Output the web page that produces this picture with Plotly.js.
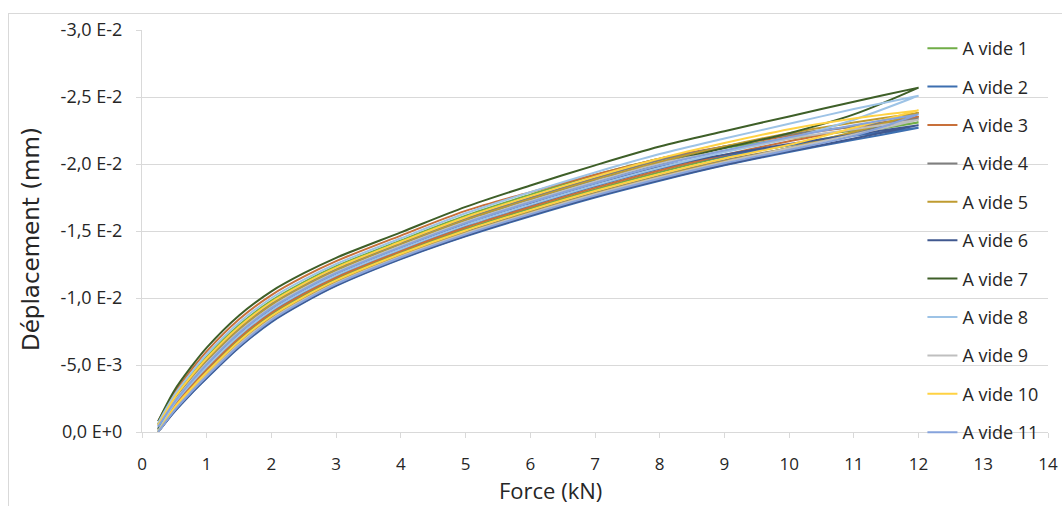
<!DOCTYPE html>
<html>
<head>
<meta charset="utf-8">
<script src="https://cdn.plot.ly/plotly-3.0.1.min.js"></script>
<style>
  html, body { margin: 0; padding: 0; background: #ffffff; }
  #frame { position: absolute; left: 8px; top: 13px; width: 1060px; height: 500px;
           border-top: 1px solid #d9d9d9; border-left: 1px solid #d9d9d9; }
  #chart { position: absolute; left: 0; top: 0; width: 1062px; height: 506px; }
</style>
</head>
<body>
<div id="frame"></div>
<div id="chart"></div>
<script>
// Force (kN) sample points, shared by the loading and unloading branches
const force = [0.25, 0.5, 0.75, 1, 1.5, 2, 2.5, 3, 4, 5, 6, 7, 8, 9, 10, 11, 12];

const seriesNames = ["A vide 1", "A vide 2", "A vide 3", "A vide 4", "A vide 5", "A vide 6",
                     "A vide 7", "A vide 8", "A vide 9", "A vide 10", "A vide 11"];
const seriesColors = ["#70ad47", "#3d6fb0", "#c8703a", "#7f7f7f", "#bf9b30", "#40588f",
                      "#3e5f28", "#9dc3e6", "#bfbfbf", "#ffd243", "#86a3dc"];

// Displacement (mm) on loading, in order of increasing force
const load1  = [-0.01e-2, -0.19e-2, -0.33e-2, -0.458e-2, -0.69e-2, -0.878e-2, -1.02e-2, -1.143e-2, -1.34e-2, -1.515e-2, -1.668e-2, -1.81e-2, -1.939e-2, -2.054e-2, -2.14e-2, -2.23e-2, -2.31e-2];
const load2  = [ 0.00e-2, -0.15e-2, -0.28e-2, -0.40e-2, -0.63e-2, -0.82e-2, -0.965e-2, -1.09e-2, -1.29e-2, -1.46e-2, -1.61e-2, -1.75e-2, -1.875e-2, -1.99e-2, -2.09e-2, -2.18e-2, -2.27e-2];
const load3  = [-0.02e-2, -0.198e-2, -0.34e-2, -0.469e-2, -0.702e-2, -0.889e-2, -1.031e-2, -1.153e-2, -1.35e-2, -1.526e-2, -1.679e-2, -1.822e-2, -1.952e-2, -2.067e-2, -2.17e-2, -2.26e-2, -2.35e-2];
const load4  = [ 0.00e-2, -0.174e-2, -0.31e-2, -0.435e-2, -0.666e-2, -0.855e-2, -0.998e-2, -1.122e-2, -1.32e-2, -1.493e-2, -1.645e-2, -1.786e-2, -1.913e-2, -2.028e-2, -2.12e-2, -2.23e-2, -2.34e-2];
const load5  = [-0.01e-2, -0.169e-2, -0.304e-2, -0.428e-2, -0.659e-2, -0.848e-2, -0.991e-2, -1.115e-2, -1.314e-2, -1.486e-2, -1.638e-2, -1.779e-2, -1.906e-2, -2.021e-2, -2.12e-2, -2.24e-2, -2.38e-2];
const load6  = [ 0.00e-2, -0.153e-2, -0.284e-2, -0.405e-2, -0.635e-2, -0.825e-2, -0.969e-2, -1.094e-2, -1.294e-2, -1.464e-2, -1.615e-2, -1.755e-2, -1.88e-2, -1.995e-2, -2.095e-2, -2.19e-2, -2.29e-2];
const load7  = [-0.02e-2, -0.23e-2, -0.38e-2, -0.515e-2, -0.75e-2, -0.935e-2, -1.075e-2, -1.195e-2, -1.39e-2, -1.57e-2, -1.725e-2, -1.87e-2, -2.00e-2, -2.12e-2, -2.23e-2, -2.37e-2, -2.57e-2];
const load8  = [-0.01e-2, -0.211e-2, -0.356e-2, -0.487e-2, -0.721e-2, -0.907e-2, -1.049e-2, -1.17e-2, -1.366e-2, -1.544e-2, -1.697e-2, -1.841e-2, -1.972e-2, -2.087e-2, -2.19e-2, -2.33e-2, -2.51e-2];
const load9  = [ 0.00e-2, -0.166e-2, -0.30e-2, -0.423e-2, -0.654e-2, -0.843e-2, -0.987e-2, -1.111e-2, -1.31e-2, -1.482e-2, -1.633e-2, -1.774e-2, -1.901e-2, -2.016e-2, -2.117e-2, -2.22e-2, -2.33e-2];
const load10 = [ 0.00e-2, -0.182e-2, -0.32e-2, -0.446e-2, -0.678e-2, -0.866e-2, -1.009e-2, -1.132e-2, -1.33e-2, -1.504e-2, -1.656e-2, -1.798e-2, -1.926e-2, -2.041e-2, -2.143e-2, -2.27e-2, -2.40e-2];
const load11 = [ 0.00e-2, -0.16e-2, -0.292e-2, -0.414e-2, -0.644e-2, -0.834e-2, -0.978e-2, -1.103e-2, -1.302e-2, -1.473e-2, -1.624e-2, -1.764e-2, -1.89e-2, -2.005e-2, -2.105e-2, -2.21e-2, -2.37e-2];

// Displacement (mm) on unloading, also listed in order of increasing force
const unload1  = [-0.06e-2, -0.262e-2, -0.42e-2, -0.561e-2, -0.798e-2, -0.981e-2, -1.119e-2, -1.237e-2, -1.43e-2, -1.614e-2, -1.771e-2, -1.918e-2, -2.04e-2, -2.12e-2, -2.19e-2, -2.25e-2, -2.31e-2];
const unload2  = [-0.03e-2, -0.206e-2, -0.35e-2, -0.48e-2, -0.714e-2, -0.90e-2, -1.042e-2, -1.164e-2, -1.36e-2, -1.537e-2, -1.69e-2, -1.834e-2, -1.964e-2, -2.06e-2, -2.14e-2, -2.21e-2, -2.27e-2];
const unload3  = [-0.08e-2, -0.29e-2, -0.456e-2, -0.602e-2, -0.841e-2, -1.022e-2, -1.159e-2, -1.275e-2, -1.466e-2, -1.65e-2, -1.79e-2, -1.92e-2, -2.04e-2, -2.13e-2, -2.21e-2, -2.28e-2, -2.35e-2];
const unload4  = [-0.06e-2, -0.246e-2, -0.40e-2, -0.538e-2, -0.774e-2, -0.958e-2, -1.097e-2, -1.216e-2, -1.41e-2, -1.592e-2, -1.748e-2, -1.894e-2, -2.028e-2, -2.13e-2, -2.22e-2, -2.28e-2, -2.34e-2];
const unload5  = [-0.05e-2, -0.238e-2, -0.39e-2, -0.527e-2, -0.762e-2, -0.947e-2, -1.086e-2, -1.206e-2, -1.40e-2, -1.581e-2, -1.737e-2, -1.882e-2, -2.015e-2, -2.13e-2, -2.23e-2, -2.31e-2, -2.38e-2];
const unload6  = [-0.04e-2, -0.214e-2, -0.36e-2, -0.492e-2, -0.726e-2, -0.912e-2, -1.053e-2, -1.174e-2, -1.37e-2, -1.548e-2, -1.702e-2, -1.846e-2, -1.977e-2, -2.07e-2, -2.15e-2, -2.22e-2, -2.29e-2];
const unload7  = [-0.08e-2, -0.31e-2, -0.48e-2, -0.63e-2, -0.87e-2, -1.05e-2, -1.185e-2, -1.30e-2, -1.49e-2, -1.68e-2, -1.84e-2, -1.99e-2, -2.13e-2, -2.245e-2, -2.355e-2, -2.465e-2, -2.57e-2];
const unload8  = [-0.07e-2, -0.275e-2, -0.435e-2, -0.58e-2, -0.817e-2, -1.00e-2, -1.137e-2, -1.254e-2, -1.446e-2, -1.632e-2, -1.79e-2, -1.937e-2, -2.074e-2, -2.19e-2, -2.30e-2, -2.41e-2, -2.51e-2];
const unload9  = [-0.05e-2, -0.23e-2, -0.38e-2, -0.515e-2, -0.75e-2, -0.935e-2, -1.075e-2, -1.195e-2, -1.39e-2, -1.57e-2, -1.725e-2, -1.87e-2, -2.003e-2, -2.10e-2, -2.19e-2, -2.26e-2, -2.33e-2];
const unload10 = [-0.05e-2, -0.254e-2, -0.41e-2, -0.55e-2, -0.786e-2, -0.97e-2, -1.108e-2, -1.227e-2, -1.42e-2, -1.603e-2, -1.76e-2, -1.906e-2, -2.041e-2, -2.156e-2, -2.26e-2, -2.34e-2, -2.40e-2];
const unload11 = [-0.04e-2, -0.222e-2, -0.37e-2, -0.504e-2, -0.738e-2, -0.924e-2, -1.064e-2, -1.185e-2, -1.38e-2, -1.559e-2, -1.714e-2, -1.858e-2, -1.99e-2, -2.10e-2, -2.20e-2, -2.29e-2, -2.37e-2];

const loads   = [load1, load2, load3, load4, load5, load6, load7, load8, load9, load10, load11];
const unloads = [unload1, unload2, unload3, unload4, unload5, unload6, unload7, unload8, unload9, unload10, unload11];

// Y tick labels as written on the chart
const yTickVals = [0, -0.5e-2, -1.0e-2, -1.5e-2, -2.0e-2, -2.5e-2, -3.0e-2];
const yTickText = ["0,0 E+0", "-5,0 E-3", "-1,0 E-2", "-1,5 E-2", "-2,0 E-2", "-2,5 E-2", "-3,0 E-2"];

const xTitle = "Force (kN)";
const yTitle = "Déplacement (mm)";

const traces = seriesNames.map((name, i) => ({
  type: "scatter",
  mode: "lines",
  name: name,
  legendgroup: "g" + i,
  x: force.concat(force.slice().reverse()),
  y: loads[i].concat(unloads[i].slice().reverse()),
  line: { color: seriesColors[i], width: 2, shape: "spline", smoothing: 0.9 },
  hoverinfo: "x+y+name"
}));

const FONT = "Open Sans, Noto Sans, sans-serif";
const TXT = "#262626";

const layout = {
  width: 1062,
  height: 506,
  margin: { l: 142, r: 14, t: 30, b: 74, pad: 0 },
  paper_bgcolor: "rgba(0,0,0,0)",
  plot_bgcolor: "rgba(0,0,0,0)",
  font: { family: FONT, color: TXT, size: 17 },
  showlegend: true,
  legend: {
    x: 0.8614, y: 1.0, xanchor: "left", yanchor: "top",
    bgcolor: "rgba(0,0,0,0)",
    font: { family: FONT, size: 18, color: TXT },
    tracegroupgap: 12,
    itemwidth: 30,
    maxheight: 500
  },
  xaxis: {
    range: [0, 14],
    tick0: 0, dtick: 1,
    showgrid: false,
    zeroline: false,
    showline: true, linecolor: "#d9d9d9", linewidth: 1,
    ticks: "outside", ticklen: 5, tickcolor: "#d9d9d9",
    ticklabelstandoff: 12,
    tickfont: { family: FONT, size: 17, color: TXT }
  },
  yaxis: {
    range: [0, -0.03],
    tickmode: "array", tickvals: yTickVals, ticktext: yTickText,
    showgrid: true, gridcolor: "#d9d9d9", gridwidth: 1,
    zeroline: false,
    showline: true, linecolor: "#d9d9d9", linewidth: 1,
    ticks: "outside", ticklen: 5, tickcolor: "#d9d9d9",
    ticklabelstandoff: 10,
    tickfont: { family: FONT, size: 18, color: TXT }
  },
  annotations: [
    { text: xTitle, xref: "paper", yref: "paper", x: 0.451, y: -0.145,
      xanchor: "center", yanchor: "middle", showarrow: false,
      font: { family: FONT, size: 22, color: TXT } },
    { text: yTitle, xref: "paper", yref: "paper", x: -0.1225, y: 0.48,
      xanchor: "center", yanchor: "middle", showarrow: false, textangle: -90,
      font: { family: "DejaVu Sans, Open Sans, sans-serif", size: 23, color: TXT } }
  ]
};

Plotly.newPlot("chart", traces, layout, { displayModeBar: false, responsive: false });
</script>
</body>
</html>
